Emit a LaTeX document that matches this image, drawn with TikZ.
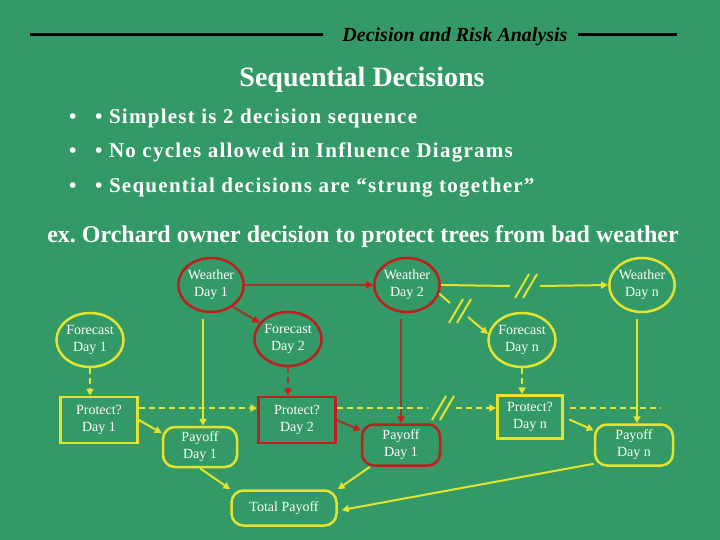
\documentclass[tikz,border=0pt]{standalone}
\usepackage{fontspec}
\setmainfont{Liberation Serif}
\usetikzlibrary{arrows.meta,shapes.geometric}
\definecolor{bg}{RGB}{51,153,102}
\definecolor{yel}{RGB}{228,228,48}
\definecolor{rd}{RGB}{190,30,30}
\definecolor{brn}{RGB}{160,55,40}
\definecolor{tipred}{RGB}{225,20,20}
\newcommand\brkmark[1]{\draw[yel,line width=2pt,shift={(#1)}] (-10,12) -- (4,-12) (-2,12) -- (12,-12);}
\begin{document}
\begin{tikzpicture}[x=1pt,y=-1pt,
  every node/.style={text=white,font=\fontsize{14}{17}\selectfont,align=center,inner sep=0pt},
  chance/.style={ellipse,draw,line width=2.5pt,minimum width=59pt,minimum height=54pt},
  decision/.style={rectangle,draw,line width=2.5pt,minimum width=77pt,minimum height=46pt},
  payoff/.style={rectangle,rounded corners=12pt,draw,line width=2.5pt,minimum width=78pt,minimum height=41pt},
  ycol/.style={draw=yel},
  rcol/.style={draw=rd},
  yarr/.style={draw=yel,line width=2pt,-{Triangle[length=7pt,width=7pt]}},
  rarr/.style={draw=brn,line width=2pt,-{Triangle[length=7pt,width=7pt,color=tipred]}},
  yline/.style={draw=yel,line width=2pt},
  dsh/.style={dash pattern=on 6pt off 4pt},
  hdr/.style={text=black,font=\fontsize{20}{24}\selectfont\bfseries\itshape},
  ttl/.style={font=\fontsize{28}{32}\selectfont\bfseries},
  bul/.style={font=\fontsize{21}{25}\selectfont\bfseries\addfontfeature{LetterSpace=6},anchor=base west},
  exl/.style={font=\fontsize{24}{28}\selectfont\bfseries}
]
\fill[bg] (0,0) rectangle (720,540);
\useasboundingbox (0,0) rectangle (720,540);

% header
\node[hdr] (hd) at (455,37) {Decision and Risk Analysis};
\coordinate (hl1) at (30,35);
\coordinate (hl2) at (323,35);
\coordinate (hr1) at (578,35);
\coordinate (hr2) at (677,35);
\draw[line width=3pt] (hl1) -- (hl2);
\draw[line width=3pt] (hr1) -- (hr2);

\node[ttl] (title) at (362,80) {Sequential Decisions};

\node[bul] (b1a) at (69,124) {•};
\node[bul] (b1) at (95,124) {• Simplest is 2 decision sequence};
\node[bul] (b2a) at (69,158) {•};
\node[bul] (b2) at (95,158) {• No cycles allowed in Influence Diagrams};
\node[bul] (b3a) at (69,193) {•};
\node[bul] (b3) at (95,193) {• Sequential decisions are “strung together”};

\node[exl] (ex) at (363,237) {ex.\ Orchard owner decision to protect trees from bad weather};

% nodes
\node[chance,rcol] (w1) at (211,285) {Weather\\Day 1};
\node[chance,rcol] (w2) at (407,285) {Weather\\Day 2};
\node[chance,ycol] (wn) at (642,285) {Weather\\Day n};
\node[chance,ycol] (f1) at (90,340) {Forecast\\Day 1};
\node[chance,rcol] (f2) at (288,339) {Forecast\\Day 2};
\node[chance,ycol] (fn) at (522,340) {Forecast\\Day n};
\node[decision,ycol] (p1) at (99,420) {Protect?\\Day 1};
\node[decision,rcol] (p2) at (297,420) {Protect?\\Day 2};
\node[decision,ycol,minimum width=65pt,minimum height=43pt] (pn) at (530,417) {Protect?\\Day n};
\node[payoff,ycol,minimum width=74pt,minimum height=40pt] (u1) at (200,447) {Payoff\\Day 1};
\node[payoff,rcol] (u2) at (401,445) {Payoff\\Day 1};
\node[payoff,ycol] (un) at (634,445) {Payoff\\Day n};
\node[payoff,ycol,minimum width=105pt,minimum height=35pt] (tp) at (284,508) {Total Payoff};

% break points
\coordinate (k1) at (525,286);
\coordinate (k1a) at (510,286);
\coordinate (k1b) at (540,286);
\coordinate (k2) at (459,311);
\coordinate (k2a) at (450,303);
\coordinate (k2b) at (468,317);
\coordinate (k3) at (442,408);
\coordinate (k3a) at (428,408);
\coordinate (k3b) at (456,408);
\coordinate (pe) at (660,408);

% weather arcs
\draw[rarr] (w1.east) -- (w2.west);
\draw[rarr] (w1.-45) -- (f2.150);
\draw[yarr,shorten <=6pt] ([xshift=3pt]w1.south -| u1.north) -- ([xshift=3pt]u1.north);
\draw[rarr,shorten <=6pt] (w2.south -| u2.north) -- (u2.north);
\draw[yarr,shorten <=6pt] ([xshift=3pt]wn.south -| un.north) -- ([xshift=3pt]un.north);
\draw[yline] (w2.east) -- (k1a);
\draw[yarr] (k1b) -- (wn.west);
\brkmark{k1}
\draw[yline] (w2.-15) -- (k2a);
\draw[yarr] (k2b) -- (fn.170);
\brkmark{k2}

% forecast to decision
\draw[yarr,dsh] (f1.south) -- (f1.south |- p1.north);
\draw[rarr,dsh] (f2.south) -- (f2.south |- p2.north);
\draw[yarr,dsh] (fn.south) -- (fn.south |- pn.north);

% decision sequence
\draw[yarr,dsh] ([yshift=12pt]p1.east) -- ([yshift=12pt]p2.west);
\draw[yline,dsh] ([yshift=12pt]p2.east) -- (k3a);
\draw[yarr,dsh] (k3b) -- ([yshift=9pt]pn.west);
\brkmark{k3}
\draw[yline,dsh,shorten <=6pt] ([yshift=9pt]pn.east) -- (pe);

% decision to payoff
\draw[yarr] (p1.east) -- (u1.160);
\draw[rarr] (p2.east) -- (u2.160);
\draw[yarr,shorten <=6pt] (pn.east) -- (un.160);

% payoff to total
\draw[yarr] (u1.south) -- (tp.north west);
\draw[yarr] (u2.-145) -- (tp.north east);
\draw[yarr] (un.-155) -- ([xshift=4pt,yshift=-2pt]tp.east);
\end{tikzpicture}
\end{document}
